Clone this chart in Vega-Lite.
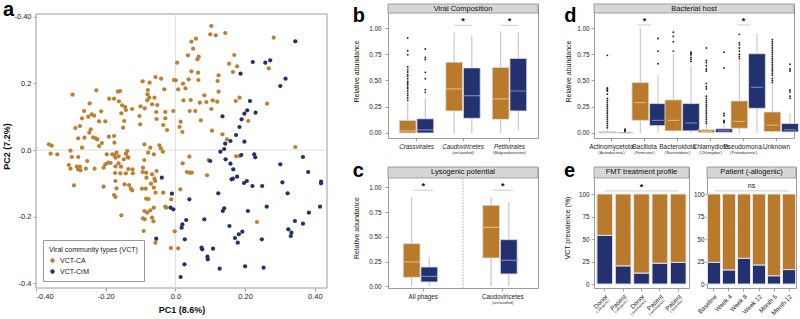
{
"$schema": "https://vega.github.io/schema/vega-lite/v6.json",
"background": "white",
"padding": {"left": 2, "top": 0, "right": 2, "bottom": 0},
"config": {
  "font": "Liberation Sans",
  "view": {"stroke": "#9c9c9c", "strokeWidth": 1},
  "axis": {"domain": false, "grid": false, "ticks": true, "tickColor": "#8c8c8c", "tickSize": 3, "tickWidth": 0.8, "labelColor": "#222222", "labelFontSize": 6.3, "labelPadding": 2, "titleColor": "#111111", "titleFontSize": 7, "titleFontWeight": "normal", "titlePadding": 3},
  "title": {"fontSize": 20, "fontWeight": "bold", "anchor": "start", "frame": "bounds", "baseline": "top", "color": "#000000", "font": "Liberation Sans"}
},
"resolve": {"legend": {"color": "independent"}, "scale": {"color": "independent"}},
"datasets": {
  "pca": [
    {"pc1":0.103,"pc2":0.372,"vct":"VCT-CA"},{"pc1":0.100,"pc2":0.347,"vct":"VCT-CA"},{"pc1":0.116,"pc2":0.344,"vct":"VCT-CA"},{"pc1":0.143,"pc2":0.351,"vct":"VCT-CA"},{"pc1":0.282,"pc2":0.337,"vct":"VCT-CA"},{"pc1":0.059,"pc2":0.334,"vct":"VCT-CA"},{"pc1":0.046,"pc2":0.325,"vct":"VCT-CA"},{"pc1":0.051,"pc2":0.304,"vct":"VCT-CA"},{"pc1":0.036,"pc2":0.284,"vct":"VCT-CA"},{"pc1":0.067,"pc2":0.280,"vct":"VCT-CA"},{"pc1":0.063,"pc2":0.272,"vct":"VCT-CA"},{"pc1":0.005,"pc2":0.262,"vct":"VCT-CA"},{"pc1":0.169,"pc2":0.285,"vct":"VCT-CA"},{"pc1":0.154,"pc2":0.259,"vct":"VCT-CA"},{"pc1":0.177,"pc2":0.251,"vct":"VCT-CA"},{"pc1":0.268,"pc2":0.245,"vct":"VCT-CA"},{"pc1":0.046,"pc2":0.236,"vct":"VCT-CA"},{"pc1":0.065,"pc2":0.232,"vct":"VCT-CA"},{"pc1":0.165,"pc2":0.234,"vct":"VCT-CA"},{"pc1":0.124,"pc2":0.224,"vct":"VCT-CA"},{"pc1":-0.057,"pc2":0.219,"vct":"VCT-CA"},{"pc1":-0.041,"pc2":0.214,"vct":"VCT-CA"},{"pc1":-0.094,"pc2":0.206,"vct":"VCT-CA"},{"pc1":-0.004,"pc2":0.210,"vct":"VCT-CA"},{"pc1":0.001,"pc2":0.209,"vct":"VCT-CA"},{"pc1":0.022,"pc2":0.199,"vct":"VCT-CA"},{"pc1":0.038,"pc2":0.212,"vct":"VCT-CA"},{"pc1":0.066,"pc2":0.210,"vct":"VCT-CA"},{"pc1":0.121,"pc2":0.207,"vct":"VCT-CA"},{"pc1":-0.074,"pc2":0.202,"vct":"VCT-CA"},{"pc1":-0.079,"pc2":0.180,"vct":"VCT-CA"},{"pc1":-0.032,"pc2":0.182,"vct":"VCT-CA"},{"pc1":0.008,"pc2":0.182,"vct":"VCT-CA"},{"pc1":0.029,"pc2":0.185,"vct":"VCT-CA"},{"pc1":0.124,"pc2":0.175,"vct":"VCT-CA"},{"pc1":0.083,"pc2":0.164,"vct":"VCT-CA"},{"pc1":0.107,"pc2":0.149,"vct":"VCT-CA"},{"pc1":0.184,"pc2":0.157,"vct":"VCT-CA"},{"pc1":0.173,"pc2":0.147,"vct":"VCT-CA"},{"pc1":0.023,"pc2":0.149,"vct":"VCT-CA"},{"pc1":0.044,"pc2":0.150,"vct":"VCT-CA"},{"pc1":0.089,"pc2":0.144,"vct":"VCT-CA"},{"pc1":0.070,"pc2":0.142,"vct":"VCT-CA"},{"pc1":0.120,"pc2":0.145,"vct":"VCT-CA"},{"pc1":0.263,"pc2":0.139,"vct":"VCT-CA"},{"pc1":-0.080,"pc2":0.167,"vct":"VCT-CA"},{"pc1":-0.075,"pc2":0.157,"vct":"VCT-CA"},{"pc1":-0.060,"pc2":0.157,"vct":"VCT-CA"},{"pc1":-0.081,"pc2":0.149,"vct":"VCT-CA"},{"pc1":-0.067,"pc2":0.137,"vct":"VCT-CA"},{"pc1":-0.100,"pc2":0.131,"vct":"VCT-CA"},{"pc1":-0.088,"pc2":0.125,"vct":"VCT-CA"},{"pc1":-0.052,"pc2":0.135,"vct":"VCT-CA"},{"pc1":-0.055,"pc2":0.114,"vct":"VCT-CA"},{"pc1":-0.029,"pc2":0.114,"vct":"VCT-CA"},{"pc1":-0.006,"pc2":0.117,"vct":"VCT-CA"},{"pc1":0.041,"pc2":0.117,"vct":"VCT-CA"},{"pc1":0.057,"pc2":0.117,"vct":"VCT-CA"},{"pc1":0.103,"pc2":0.123,"vct":"VCT-CA"},{"pc1":-0.103,"pc2":0.102,"vct":"VCT-CA"},{"pc1":-0.054,"pc2":0.093,"vct":"VCT-CA"},{"pc1":-0.029,"pc2":0.095,"vct":"VCT-CA"},{"pc1":0.015,"pc2":0.085,"vct":"VCT-CA"},{"pc1":0.073,"pc2":0.089,"vct":"VCT-CA"},{"pc1":0.209,"pc2":0.087,"vct":"VCT-CA"},{"pc1":-0.101,"pc2":0.077,"vct":"VCT-CA"},{"pc1":-0.035,"pc2":0.075,"vct":"VCT-CA"},{"pc1":0.012,"pc2":0.069,"vct":"VCT-CA"},{"pc1":-0.024,"pc2":0.060,"vct":"VCT-CA"},{"pc1":0.020,"pc2":0.054,"vct":"VCT-CA"},{"pc1":0.105,"pc2":0.058,"vct":"VCT-CA"},{"pc1":0.135,"pc2":0.047,"vct":"VCT-CA"},{"pc1":0.148,"pc2":0.032,"vct":"VCT-CA"},
    {"pc1":-0.295,"pc2":0.166,"vct":"VCT-CA"},{"pc1":-0.227,"pc2":0.179,"vct":"VCT-CA"},{"pc1":-0.246,"pc2":0.140,"vct":"VCT-CA"},{"pc1":-0.213,"pc2":0.116,"vct":"VCT-CA"},{"pc1":-0.262,"pc2":0.117,"vct":"VCT-CA"},{"pc1":-0.240,"pc2":0.107,"vct":"VCT-CA"},{"pc1":-0.233,"pc2":0.103,"vct":"VCT-CA"},{"pc1":-0.268,"pc2":0.095,"vct":"VCT-CA"},{"pc1":-0.250,"pc2":0.100,"vct":"VCT-CA"},{"pc1":-0.219,"pc2":0.086,"vct":"VCT-CA"},{"pc1":-0.201,"pc2":0.086,"vct":"VCT-CA"},{"pc1":-0.190,"pc2":0.154,"vct":"VCT-CA"},{"pc1":-0.176,"pc2":0.154,"vct":"VCT-CA"},{"pc1":-0.165,"pc2":0.175,"vct":"VCT-CA"},{"pc1":-0.159,"pc2":0.177,"vct":"VCT-CA"},{"pc1":-0.162,"pc2":0.146,"vct":"VCT-CA"},{"pc1":-0.153,"pc2":0.134,"vct":"VCT-CA"},{"pc1":-0.144,"pc2":0.129,"vct":"VCT-CA"},{"pc1":-0.142,"pc2":0.120,"vct":"VCT-CA"},{"pc1":-0.155,"pc2":0.110,"vct":"VCT-CA"},{"pc1":-0.124,"pc2":0.123,"vct":"VCT-CA"},{"pc1":-0.147,"pc2":0.087,"vct":"VCT-CA"},{"pc1":-0.150,"pc2":0.067,"vct":"VCT-CA"},{"pc1":-0.274,"pc2":0.072,"vct":"VCT-CA"},{"pc1":-0.287,"pc2":0.066,"vct":"VCT-CA"},{"pc1":-0.243,"pc2":0.062,"vct":"VCT-CA"},{"pc1":-0.247,"pc2":0.052,"vct":"VCT-CA"},{"pc1":-0.261,"pc2":0.037,"vct":"VCT-CA"},{"pc1":-0.279,"pc2":0.035,"vct":"VCT-CA"},{"pc1":-0.236,"pc2":0.038,"vct":"VCT-CA"},{"pc1":-0.229,"pc2":0.035,"vct":"VCT-CA"},{"pc1":-0.224,"pc2":0.032,"vct":"VCT-CA"},{"pc1":-0.219,"pc2":0.012,"vct":"VCT-CA"},{"pc1":-0.211,"pc2":0.021,"vct":"VCT-CA"},{"pc1":-0.191,"pc2":0.040,"vct":"VCT-CA"},{"pc1":-0.176,"pc2":0.042,"vct":"VCT-CA"},{"pc1":-0.268,"pc2":0.007,"vct":"VCT-CA"},{"pc1":-0.363,"pc2":0.017,"vct":"VCT-CA"},{"pc1":-0.355,"pc2":0.013,"vct":"VCT-CA"},{"pc1":-0.358,"pc2":-0.011,"vct":"VCT-CA"},{"pc1":-0.339,"pc2":-0.013,"vct":"VCT-CA"},{"pc1":-0.301,"pc2":-0.002,"vct":"VCT-CA"},{"pc1":-0.297,"pc2":-0.021,"vct":"VCT-CA"},{"pc1":-0.279,"pc2":-0.021,"vct":"VCT-CA"},{"pc1":-0.253,"pc2":-0.033,"vct":"VCT-CA"},{"pc1":-0.306,"pc2":-0.045,"vct":"VCT-CA"},{"pc1":-0.301,"pc2":-0.056,"vct":"VCT-CA"},{"pc1":-0.283,"pc2":-0.050,"vct":"VCT-CA"},{"pc1":-0.279,"pc2":-0.058,"vct":"VCT-CA"},{"pc1":-0.272,"pc2":-0.061,"vct":"VCT-CA"},{"pc1":-0.274,"pc2":-0.050,"vct":"VCT-CA"},{"pc1":-0.257,"pc2":-0.056,"vct":"VCT-CA"},{"pc1":-0.232,"pc2":-0.056,"vct":"VCT-CA"},{"pc1":-0.291,"pc2":-0.106,"vct":"VCT-CA"},{"pc1":-0.206,"pc2":-0.053,"vct":"VCT-CA"},{"pc1":-0.201,"pc2":-0.043,"vct":"VCT-CA"},{"pc1":-0.193,"pc2":-0.038,"vct":"VCT-CA"},{"pc1":-0.186,"pc2":-0.039,"vct":"VCT-CA"},{"pc1":-0.197,"pc2":-0.013,"vct":"VCT-CA"},{"pc1":-0.176,"pc2":-0.015,"vct":"VCT-CA"},{"pc1":-0.172,"pc2":-0.023,"vct":"VCT-CA"},{"pc1":-0.163,"pc2":-0.019,"vct":"VCT-CA"},{"pc1":-0.181,"pc2":-0.013,"vct":"VCT-CA"},{"pc1":-0.142,"pc2":-0.011,"vct":"VCT-CA"},{"pc1":-0.137,"pc2":-0.021,"vct":"VCT-CA"},{"pc1":-0.148,"pc2":-0.028,"vct":"VCT-CA"},{"pc1":-0.163,"pc2":-0.040,"vct":"VCT-CA"},{"pc1":-0.156,"pc2":-0.050,"vct":"VCT-CA"},{"pc1":-0.172,"pc2":-0.049,"vct":"VCT-CA"},{"pc1":-0.173,"pc2":-0.069,"vct":"VCT-CA"},{"pc1":-0.158,"pc2":-0.070,"vct":"VCT-CA"},{"pc1":-0.142,"pc2":-0.070,"vct":"VCT-CA"},{"pc1":-0.135,"pc2":-0.057,"vct":"VCT-CA"},{"pc1":-0.123,"pc2":-0.058,"vct":"VCT-CA"},{"pc1":-0.122,"pc2":-0.070,"vct":"VCT-CA"},{"pc1":-0.175,"pc2":0.022,"vct":"VCT-CA"},{"pc1":-0.169,"pc2":-0.008,"vct":"VCT-CA"},{"pc1":-0.138,"pc2":-0.003,"vct":"VCT-CA"},{"pc1":-0.135,"pc2":-0.023,"vct":"VCT-CA"},{"pc1":-0.206,"pc2":-0.110,"vct":"VCT-CA"},{"pc1":-0.169,"pc2":-0.115,"vct":"VCT-CA"},{"pc1":-0.172,"pc2":-0.093,"vct":"VCT-CA"},{"pc1":-0.146,"pc2":-0.103,"vct":"VCT-CA"},{"pc1":-0.133,"pc2":-0.105,"vct":"VCT-CA"},{"pc1":-0.128,"pc2":-0.116,"vct":"VCT-CA"},{"pc1":-0.124,"pc2":-0.121,"vct":"VCT-CA"},{"pc1":-0.176,"pc2":-0.135,"vct":"VCT-CA"},{"pc1":-0.172,"pc2":-0.141,"vct":"VCT-CA"},{"pc1":-0.155,"pc2":-0.196,"vct":"VCT-CA"},
    {"pc1":-0.089,"pc2":0.017,"vct":"VCT-CA"},{"pc1":-0.072,"pc2":0.007,"vct":"VCT-CA"},{"pc1":-0.046,"pc2":0.014,"vct":"VCT-CA"},{"pc1":-0.042,"pc2":0.005,"vct":"VCT-CA"},{"pc1":-0.036,"pc2":-0.005,"vct":"VCT-CA"},{"pc1":-0.062,"pc2":-0.013,"vct":"VCT-CA"},{"pc1":-0.078,"pc2":-0.008,"vct":"VCT-CA"},{"pc1":-0.089,"pc2":-0.030,"vct":"VCT-CA"},{"pc1":-0.093,"pc2":-0.053,"vct":"VCT-CA"},{"pc1":-0.094,"pc2":-0.066,"vct":"VCT-CA"},{"pc1":-0.084,"pc2":-0.068,"vct":"VCT-CA"},{"pc1":-0.083,"pc2":-0.083,"vct":"VCT-CA"},{"pc1":-0.067,"pc2":-0.073,"vct":"VCT-CA"},{"pc1":-0.060,"pc2":-0.086,"vct":"VCT-CA"},{"pc1":-0.054,"pc2":-0.063,"vct":"VCT-CA"},{"pc1":-0.058,"pc2":-0.093,"vct":"VCT-CA"},{"pc1":-0.070,"pc2":-0.101,"vct":"VCT-CA"},{"pc1":-0.096,"pc2":-0.116,"vct":"VCT-CA"},{"pc1":-0.085,"pc2":-0.116,"vct":"VCT-CA"},{"pc1":-0.062,"pc2":-0.113,"vct":"VCT-CA"},{"pc1":-0.057,"pc2":-0.128,"vct":"VCT-CA"},{"pc1":-0.035,"pc2":-0.128,"vct":"VCT-CA"},{"pc1":-0.029,"pc2":-0.170,"vct":"VCT-CA"},{"pc1":-0.026,"pc2":-0.173,"vct":"VCT-CA"},{"pc1":-0.084,"pc2":-0.146,"vct":"VCT-CA"},{"pc1":-0.077,"pc2":-0.147,"vct":"VCT-CA"},{"pc1":-0.062,"pc2":-0.173,"vct":"VCT-CA"},{"pc1":-0.072,"pc2":-0.181,"vct":"VCT-CA"},{"pc1":-0.089,"pc2":-0.183,"vct":"VCT-CA"},{"pc1":-0.081,"pc2":-0.188,"vct":"VCT-CA"},{"pc1":-0.067,"pc2":-0.203,"vct":"VCT-CA"},{"pc1":-0.063,"pc2":-0.214,"vct":"VCT-CA"},{"pc1":-0.093,"pc2":-0.205,"vct":"VCT-CA"},{"pc1":-0.088,"pc2":-0.208,"vct":"VCT-CA"},{"pc1":-0.091,"pc2":-0.243,"vct":"VCT-CA"},{"pc1":-0.057,"pc2":-0.278,"vct":"VCT-CA"},{"pc1":-0.012,"pc2":-0.148,"vct":"VCT-CA"},{"pc1":0.014,"pc2":-0.118,"vct":"VCT-CA"},{"pc1":0.021,"pc2":-0.040,"vct":"VCT-CA"},{"pc1":0.040,"pc2":-0.020,"vct":"VCT-CA"},{"pc1":0.033,"pc2":-0.066,"vct":"VCT-CA"},{"pc1":0.041,"pc2":-0.068,"vct":"VCT-CA"},{"pc1":0.047,"pc2":-0.068,"vct":"VCT-CA"},{"pc1":0.091,"pc2":-0.076,"vct":"VCT-CA"},{"pc1":0.095,"pc2":-0.030,"vct":"VCT-CA"},{"pc1":-0.002,"pc2":-0.244,"vct":"VCT-CA"},{"pc1":-0.013,"pc2":-0.294,"vct":"VCT-CA"},{"pc1":0.008,"pc2":-0.295,"vct":"VCT-CA"},{"pc1":0.234,"pc2":-0.216,"vct":"VCT-CA"},{"pc1":0.344,"pc2":0.009,"vct":"VCT-CA"},{"pc1":0.174,"pc2":-0.019,"vct":"VCT-CA"},{"pc1":0.185,"pc2":-0.018,"vct":"VCT-CA"},
    {"pc1":0.344,"pc2":0.326,"vct":"VCT-CrM"},{"pc1":0.272,"pc2":0.269,"vct":"VCT-CrM"},{"pc1":0.258,"pc2":0.262,"vct":"VCT-CrM"},{"pc1":0.222,"pc2":0.264,"vct":"VCT-CrM"},{"pc1":0.316,"pc2":0.214,"vct":"VCT-CrM"},{"pc1":0.301,"pc2":0.192,"vct":"VCT-CrM"},{"pc1":0.187,"pc2":0.229,"vct":"VCT-CrM"},{"pc1":0.214,"pc2":0.147,"vct":"VCT-CrM"},{"pc1":0.206,"pc2":0.119,"vct":"VCT-CrM"},{"pc1":0.198,"pc2":0.109,"vct":"VCT-CrM"},{"pc1":0.230,"pc2":0.112,"vct":"VCT-CrM"},{"pc1":0.135,"pc2":0.101,"vct":"VCT-CrM"},{"pc1":0.190,"pc2":0.092,"vct":"VCT-CrM"},{"pc1":0.184,"pc2":0.069,"vct":"VCT-CrM"},{"pc1":0.174,"pc2":0.045,"vct":"VCT-CrM"},{"pc1":0.158,"pc2":0.027,"vct":"VCT-CrM"},{"pc1":0.143,"pc2":0.019,"vct":"VCT-CrM"},{"pc1":0.198,"pc2":0.025,"vct":"VCT-CrM"},{"pc1":0.140,"pc2":0.003,"vct":"VCT-CrM"},{"pc1":0.129,"pc2":-0.005,"vct":"VCT-CrM"},{"pc1":0.144,"pc2":-0.028,"vct":"VCT-CrM"},{"pc1":0.189,"pc2":-0.015,"vct":"VCT-CrM"},{"pc1":0.226,"pc2":-0.013,"vct":"VCT-CrM"},{"pc1":0.229,"pc2":-0.022,"vct":"VCT-CrM"},{"pc1":0.100,"pc2":-0.033,"vct":"VCT-CrM"},{"pc1":0.158,"pc2":-0.041,"vct":"VCT-CrM"},{"pc1":0.166,"pc2":-0.058,"vct":"VCT-CrM"},{"pc1":0.177,"pc2":-0.080,"vct":"VCT-CrM"},{"pc1":0.165,"pc2":-0.086,"vct":"VCT-CrM"},{"pc1":0.161,"pc2":-0.088,"vct":"VCT-CrM"},{"pc1":0.205,"pc2":-0.093,"vct":"VCT-CrM"},{"pc1":0.197,"pc2":-0.099,"vct":"VCT-CrM"},{"pc1":0.221,"pc2":-0.108,"vct":"VCT-CrM"},{"pc1":0.249,"pc2":-0.108,"vct":"VCT-CrM"},{"pc1":0.301,"pc2":-0.043,"vct":"VCT-CrM"},{"pc1":0.307,"pc2":-0.097,"vct":"VCT-CrM"},{"pc1":0.366,"pc2":-0.021,"vct":"VCT-CrM"},{"pc1":0.381,"pc2":-0.066,"vct":"VCT-CrM"},{"pc1":0.322,"pc2":-0.130,"vct":"VCT-CrM"},{"pc1":0.418,"pc2":-0.095,"vct":"VCT-CrM"},{"pc1":0.418,"pc2":-0.100,"vct":"VCT-CrM"},{"pc1":0.415,"pc2":-0.170,"vct":"VCT-CrM"},{"pc1":0.383,"pc2":-0.188,"vct":"VCT-CrM"},{"pc1":0.343,"pc2":-0.213,"vct":"VCT-CrM"},{"pc1":0.366,"pc2":-0.221,"vct":"VCT-CrM"},{"pc1":0.324,"pc2":-0.238,"vct":"VCT-CrM"},{"pc1":0.333,"pc2":-0.248,"vct":"VCT-CrM"},{"pc1":0.331,"pc2":-0.258,"vct":"VCT-CrM"},{"pc1":0.262,"pc2":-0.170,"vct":"VCT-CrM"},{"pc1":0.208,"pc2":-0.183,"vct":"VCT-CrM"},{"pc1":0.123,"pc2":-0.130,"vct":"VCT-CrM"},{"pc1":0.140,"pc2":-0.175,"vct":"VCT-CrM"},{"pc1":0.136,"pc2":-0.183,"vct":"VCT-CrM"},{"pc1":0.155,"pc2":-0.228,"vct":"VCT-CrM"},{"pc1":0.171,"pc2":-0.264,"vct":"VCT-CrM"},{"pc1":0.182,"pc2":-0.253,"vct":"VCT-CrM"},{"pc1":0.192,"pc2":-0.245,"vct":"VCT-CrM"},{"pc1":0.179,"pc2":-0.278,"vct":"VCT-CrM"},{"pc1":0.248,"pc2":-0.268,"vct":"VCT-CrM"},{"pc1":0.200,"pc2":-0.349,"vct":"VCT-CrM"},{"pc1":0.253,"pc2":-0.353,"vct":"VCT-CrM"},{"pc1":0.127,"pc2":-0.356,"vct":"VCT-CrM"},{"pc1":0.108,"pc2":-0.296,"vct":"VCT-CrM"},{"pc1":0.075,"pc2":-0.293,"vct":"VCT-CrM"},{"pc1":0.077,"pc2":-0.298,"vct":"VCT-CrM"},{"pc1":0.092,"pc2":-0.320,"vct":"VCT-CrM"},{"pc1":0.093,"pc2":-0.328,"vct":"VCT-CrM"},{"pc1":0.083,"pc2":-0.208,"vct":"VCT-CrM"},{"pc1":0.040,"pc2":-0.148,"vct":"VCT-CrM"},{"pc1":0.020,"pc2":-0.223,"vct":"VCT-CrM"},{"pc1":0.031,"pc2":-0.210,"vct":"VCT-CrM"},{"pc1":0.018,"pc2":-0.233,"vct":"VCT-CrM"},{"pc1":0.027,"pc2":-0.268,"vct":"VCT-CrM"},{"pc1":0.026,"pc2":-0.343,"vct":"VCT-CrM"},{"pc1":0.015,"pc2":-0.381,"vct":"VCT-CrM"},{"pc1":-0.055,"pc2":-0.266,"vct":"VCT-CrM"},{"pc1":-0.039,"pc2":-0.083,"vct":"VCT-CrM"},{"pc1":-0.010,"pc2":-0.131,"vct":"VCT-CrM"},{"pc1":-0.014,"pc2":-0.173,"vct":"VCT-CrM"},{"pc1":-0.006,"pc2":-0.178,"vct":"VCT-CrM"}
  ],
  "boxes": [
    {"p":"b","cat":"Crassvirales","vct":"VCT-CA","lo":0,"q1":0,"med":0.02,"q3":0.12,"hi":0.29},
    {"p":"b","cat":"Crassvirales","vct":"VCT-CrM","lo":0,"q1":0,"med":0.03,"q3":0.135,"hi":0.33},
    {"p":"b","cat":"Caudoviricetes","vct":"VCT-CA","lo":0,"q1":0.21,"med":0.42,"q3":0.675,"hi":0.96},
    {"p":"b","cat":"Caudoviricetes","vct":"VCT-CrM","lo":0,"q1":0.14,"med":0.355,"q3":0.62,"hi":0.93},
    {"p":"b","cat":"Petitvirales","vct":"VCT-CA","lo":0,"q1":0.13,"med":0.325,"q3":0.625,"hi":0.97},
    {"p":"b","cat":"Petitvirales","vct":"VCT-CrM","lo":0.03,"q1":0.21,"med":0.40,"q3":0.71,"hi":0.96},
    {"p":"c","cat":"All phages","vct":"VCT-CA","lo":0,"q1":0.091,"med":0.246,"q3":0.431,"hi":0.90},
    {"p":"c","cat":"All phages","vct":"VCT-CrM","lo":0,"q1":0.044,"med":0.10,"q3":0.195,"hi":0.293},
    {"p":"c","cat":"Caudoviricetes","vct":"VCT-CA","lo":0,"q1":0.286,"med":0.596,"q3":0.818,"hi":0.90},
    {"p":"c","cat":"Caudoviricetes","vct":"VCT-CrM","lo":0,"q1":0.125,"med":0.263,"q3":0.471,"hi":0.852},
    {"p":"d","cat":"Actinomycetota","vct":"VCT-CA","lo":0,"q1":0,"med":0.005,"q3":0.012,"hi":0.03},
    {"p":"d","cat":"Actinomycetota","vct":"VCT-CrM","lo":0,"q1":0,"med":0.002,"q3":0.005,"hi":0.01},
    {"p":"d","cat":"Bacillota","vct":"VCT-CA","lo":0,"q1":0.12,"med":0.29,"q3":0.48,"hi":1.0},
    {"p":"d","cat":"Bacillota","vct":"VCT-CrM","lo":0,"q1":0.07,"med":0.12,"q3":0.28,"hi":0.55},
    {"p":"d","cat":"Bacteroidota","vct":"VCT-CA","lo":0,"q1":0.02,"med":0.12,"q3":0.315,"hi":0.75},
    {"p":"d","cat":"Bacteroidota","vct":"VCT-CrM","lo":0,"q1":0.02,"med":0.095,"q3":0.28,"hi":0.64},
    {"p":"d","cat":"Chlamydiota","vct":"VCT-CA","lo":0,"q1":0.003,"med":0.015,"q3":0.03,"hi":0.07},
    {"p":"d","cat":"Chlamydiota","vct":"VCT-CrM","lo":0,"q1":0.005,"med":0.02,"q3":0.04,"hi":0.085},
    {"p":"d","cat":"Pseudomona.","vct":"VCT-CA","lo":0,"q1":0.045,"med":0.11,"q3":0.305,"hi":0.69},
    {"p":"d","cat":"Pseudomona.","vct":"VCT-CrM","lo":0,"q1":0.235,"med":0.435,"q3":0.755,"hi":0.95},
    {"p":"d","cat":"Unknown","vct":"VCT-CA","lo":0,"q1":0.013,"med":0.075,"q3":0.20,"hi":0.46},
    {"p":"d","cat":"Unknown","vct":"VCT-CrM","lo":0,"q1":0.01,"med":0.03,"q3":0.09,"hi":0.19}
  ],
  "outliers": [
    {"p":"b","cat":"Crassvirales","vct":"VCT-CA","v":0.905},{"p":"b","cat":"Crassvirales","vct":"VCT-CA","v":0.784},{"p":"b","cat":"Crassvirales","vct":"VCT-CA","v":0.746},{"p":"b","cat":"Crassvirales","vct":"VCT-CA","v":0.629},{"p":"b","cat":"Crassvirales","vct":"VCT-CA","v":0.603},{"p":"b","cat":"Crassvirales","vct":"VCT-CA","v":0.581},{"p":"b","cat":"Crassvirales","vct":"VCT-CA","v":0.556},{"p":"b","cat":"Crassvirales","vct":"VCT-CA","v":0.540},{"p":"b","cat":"Crassvirales","vct":"VCT-CA","v":0.517},{"p":"b","cat":"Crassvirales","vct":"VCT-CA","v":0.492},{"p":"b","cat":"Crassvirales","vct":"VCT-CA","v":0.476},{"p":"b","cat":"Crassvirales","vct":"VCT-CA","v":0.460},{"p":"b","cat":"Crassvirales","vct":"VCT-CA","v":0.438},{"p":"b","cat":"Crassvirales","vct":"VCT-CA","v":0.422},{"p":"b","cat":"Crassvirales","vct":"VCT-CA","v":0.397},{"p":"b","cat":"Crassvirales","vct":"VCT-CA","v":0.375},{"p":"b","cat":"Crassvirales","vct":"VCT-CA","v":0.356},{"p":"b","cat":"Crassvirales","vct":"VCT-CA","v":0.333},{"p":"b","cat":"Crassvirales","vct":"VCT-CA","v":0.311},
    {"p":"b","cat":"Crassvirales","vct":"VCT-CrM","v":0.80},{"p":"b","cat":"Crassvirales","vct":"VCT-CrM","v":0.72},{"p":"b","cat":"Crassvirales","vct":"VCT-CrM","v":0.70},{"p":"b","cat":"Crassvirales","vct":"VCT-CrM","v":0.578},{"p":"b","cat":"Crassvirales","vct":"VCT-CrM","v":0.517},{"p":"b","cat":"Crassvirales","vct":"VCT-CrM","v":0.413},{"p":"b","cat":"Crassvirales","vct":"VCT-CrM","v":0.387},
    {"p":"d","cat":"Actinomycetota","vct":"VCT-CA","v":0.74},{"p":"d","cat":"Actinomycetota","vct":"VCT-CA","v":0.43},{"p":"d","cat":"Actinomycetota","vct":"VCT-CA","v":0.42},{"p":"d","cat":"Actinomycetota","vct":"VCT-CA","v":0.41},{"p":"d","cat":"Actinomycetota","vct":"VCT-CA","v":0.40},{"p":"d","cat":"Actinomycetota","vct":"VCT-CA","v":0.37},{"p":"d","cat":"Actinomycetota","vct":"VCT-CA","v":0.33},{"p":"d","cat":"Actinomycetota","vct":"VCT-CA","v":0.31},{"p":"d","cat":"Actinomycetota","vct":"VCT-CA","v":0.29},{"p":"d","cat":"Actinomycetota","vct":"VCT-CA","v":0.27},{"p":"d","cat":"Actinomycetota","vct":"VCT-CA","v":0.25},{"p":"d","cat":"Actinomycetota","vct":"VCT-CA","v":0.23},{"p":"d","cat":"Actinomycetota","vct":"VCT-CA","v":0.21},{"p":"d","cat":"Actinomycetota","vct":"VCT-CA","v":0.19},{"p":"d","cat":"Actinomycetota","vct":"VCT-CA","v":0.17},{"p":"d","cat":"Actinomycetota","vct":"VCT-CA","v":0.15},{"p":"d","cat":"Actinomycetota","vct":"VCT-CA","v":0.13},{"p":"d","cat":"Actinomycetota","vct":"VCT-CA","v":0.11},{"p":"d","cat":"Actinomycetota","vct":"VCT-CA","v":0.09},{"p":"d","cat":"Actinomycetota","vct":"VCT-CA","v":0.07},{"p":"d","cat":"Actinomycetota","vct":"VCT-CA","v":0.05},
    {"p":"d","cat":"Actinomycetota","vct":"VCT-CrM","v":0.035},{"p":"d","cat":"Actinomycetota","vct":"VCT-CrM","v":0.028},{"p":"d","cat":"Actinomycetota","vct":"VCT-CrM","v":0.022},{"p":"d","cat":"Actinomycetota","vct":"VCT-CrM","v":0.016},
    {"p":"d","cat":"Bacillota","vct":"VCT-CrM","v":0.90},{"p":"d","cat":"Bacillota","vct":"VCT-CrM","v":0.78},{"p":"d","cat":"Bacillota","vct":"VCT-CrM","v":0.66},
    {"p":"d","cat":"Bacteroidota","vct":"VCT-CA","v":0.96},{"p":"d","cat":"Bacteroidota","vct":"VCT-CA","v":0.92},{"p":"d","cat":"Bacteroidota","vct":"VCT-CA","v":0.87},{"p":"d","cat":"Bacteroidota","vct":"VCT-CA","v":0.78},
    {"p":"d","cat":"Bacteroidota","vct":"VCT-CrM","v":0.77},{"p":"d","cat":"Bacteroidota","vct":"VCT-CrM","v":0.76},{"p":"d","cat":"Bacteroidota","vct":"VCT-CrM","v":0.745},{"p":"d","cat":"Bacteroidota","vct":"VCT-CrM","v":0.72},{"p":"d","cat":"Bacteroidota","vct":"VCT-CrM","v":0.70},{"p":"d","cat":"Bacteroidota","vct":"VCT-CrM","v":0.68},
    {"p":"d","cat":"Chlamydiota","vct":"VCT-CA","v":0.81},{"p":"d","cat":"Chlamydiota","vct":"VCT-CA","v":0.69},{"p":"d","cat":"Chlamydiota","vct":"VCT-CA","v":0.67},{"p":"d","cat":"Chlamydiota","vct":"VCT-CA","v":0.64},{"p":"d","cat":"Chlamydiota","vct":"VCT-CA","v":0.61},{"p":"d","cat":"Chlamydiota","vct":"VCT-CA","v":0.59},{"p":"d","cat":"Chlamydiota","vct":"VCT-CA","v":0.47},{"p":"d","cat":"Chlamydiota","vct":"VCT-CA","v":0.44},{"p":"d","cat":"Chlamydiota","vct":"VCT-CA","v":0.42},{"p":"d","cat":"Chlamydiota","vct":"VCT-CA","v":0.35},{"p":"d","cat":"Chlamydiota","vct":"VCT-CA","v":0.33},{"p":"d","cat":"Chlamydiota","vct":"VCT-CA","v":0.31},{"p":"d","cat":"Chlamydiota","vct":"VCT-CA","v":0.29},{"p":"d","cat":"Chlamydiota","vct":"VCT-CA","v":0.27},{"p":"d","cat":"Chlamydiota","vct":"VCT-CA","v":0.25},{"p":"d","cat":"Chlamydiota","vct":"VCT-CA","v":0.23},{"p":"d","cat":"Chlamydiota","vct":"VCT-CA","v":0.21},{"p":"d","cat":"Chlamydiota","vct":"VCT-CA","v":0.19},{"p":"d","cat":"Chlamydiota","vct":"VCT-CA","v":0.17},{"p":"d","cat":"Chlamydiota","vct":"VCT-CA","v":0.15},{"p":"d","cat":"Chlamydiota","vct":"VCT-CA","v":0.13},{"p":"d","cat":"Chlamydiota","vct":"VCT-CA","v":0.11},{"p":"d","cat":"Chlamydiota","vct":"VCT-CA","v":0.09},
    {"p":"d","cat":"Chlamydiota","vct":"VCT-CrM","v":0.77},{"p":"d","cat":"Chlamydiota","vct":"VCT-CrM","v":0.62},{"p":"d","cat":"Chlamydiota","vct":"VCT-CrM","v":0.185},{"p":"d","cat":"Chlamydiota","vct":"VCT-CrM","v":0.165},{"p":"d","cat":"Chlamydiota","vct":"VCT-CrM","v":0.12},{"p":"d","cat":"Chlamydiota","vct":"VCT-CrM","v":0.11},{"p":"d","cat":"Chlamydiota","vct":"VCT-CrM","v":0.10},
    {"p":"d","cat":"Pseudomona.","vct":"VCT-CA","v":0.94},{"p":"d","cat":"Pseudomona.","vct":"VCT-CA","v":0.86},{"p":"d","cat":"Pseudomona.","vct":"VCT-CA","v":0.84},{"p":"d","cat":"Pseudomona.","vct":"VCT-CA","v":0.81},{"p":"d","cat":"Pseudomona.","vct":"VCT-CA","v":0.78},{"p":"d","cat":"Pseudomona.","vct":"VCT-CA","v":0.75},{"p":"d","cat":"Pseudomona.","vct":"VCT-CA","v":0.73},{"p":"d","cat":"Pseudomona.","vct":"VCT-CA","v":0.71},
    {"p":"d","cat":"Unknown","vct":"VCT-CA","v":0.89},{"p":"d","cat":"Unknown","vct":"VCT-CA","v":0.87},{"p":"d","cat":"Unknown","vct":"VCT-CA","v":0.85},{"p":"d","cat":"Unknown","vct":"VCT-CA","v":0.83},{"p":"d","cat":"Unknown","vct":"VCT-CA","v":0.81},{"p":"d","cat":"Unknown","vct":"VCT-CA","v":0.79},{"p":"d","cat":"Unknown","vct":"VCT-CA","v":0.77},{"p":"d","cat":"Unknown","vct":"VCT-CA","v":0.75},{"p":"d","cat":"Unknown","vct":"VCT-CA","v":0.73},{"p":"d","cat":"Unknown","vct":"VCT-CA","v":0.71},{"p":"d","cat":"Unknown","vct":"VCT-CA","v":0.69},{"p":"d","cat":"Unknown","vct":"VCT-CA","v":0.67},{"p":"d","cat":"Unknown","vct":"VCT-CA","v":0.65},{"p":"d","cat":"Unknown","vct":"VCT-CA","v":0.63},{"p":"d","cat":"Unknown","vct":"VCT-CA","v":0.61},{"p":"d","cat":"Unknown","vct":"VCT-CA","v":0.59},{"p":"d","cat":"Unknown","vct":"VCT-CA","v":0.57},{"p":"d","cat":"Unknown","vct":"VCT-CA","v":0.55},{"p":"d","cat":"Unknown","vct":"VCT-CA","v":0.52},{"p":"d","cat":"Unknown","vct":"VCT-CA","v":0.50},{"p":"d","cat":"Unknown","vct":"VCT-CA","v":0.48},
    {"p":"d","cat":"Unknown","vct":"VCT-CrM","v":0.655},{"p":"d","cat":"Unknown","vct":"VCT-CrM","v":0.61},{"p":"d","cat":"Unknown","vct":"VCT-CrM","v":0.59},{"p":"d","cat":"Unknown","vct":"VCT-CrM","v":0.41},{"p":"d","cat":"Unknown","vct":"VCT-CrM","v":0.39},{"p":"d","cat":"Unknown","vct":"VCT-CrM","v":0.35},{"p":"d","cat":"Unknown","vct":"VCT-CrM","v":0.33}
  ],
  "bars": [
    {"grp":"FMT","cat":"Donor (-allogenic)","crm":54},
    {"grp":"FMT","cat":"Patient (-allogenic)","crm":20},
    {"grp":"FMT","cat":"Donor (-autologous)","crm":12},
    {"grp":"FMT","cat":"Patient (-autologous)","crm":23},
    {"grp":"FMT","cat":"Patient (-baseline)","crm":24},
    {"grp":"PAT","cat":"Baseline","crm":24},
    {"grp":"PAT","cat":"Week 4","crm":15.5},
    {"grp":"PAT","cat":"Week 8","crm":28.5},
    {"grp":"PAT","cat":"Week 12","crm":21},
    {"grp":"PAT","cat":"Month 6","crm":9},
    {"grp":"PAT","cat":"Month 12","crm":16}
  ]
},
"columns": 3,
"align": "none",
"spacing": 24,
"concat": [
  {
    "columns": 1,
    "resolve": {"legend": {"color": "independent"}, "scale": {"color": "independent"}},
    "concat": [
      {
        "width": 291, "height": 284,
        "view": {"stroke": null},
        "title": {"text": "a", "offset": -16},
        "resolve": {"axis": {"x": "independent", "y": "independent"}},
        "layer": [
          {"data": {"values": [{}]}, "mark": {"type": "rect", "fill": "white", "fillOpacity": 0, "stroke": "#9c9c9c", "strokeWidth": 1},
           "encoding": {"y": {"datum": -0.414, "type": "quantitative", "scale": {"domain": [-0.414, 0.438], "nice": false, "zero": false},
               "axis": {"orient": "left", "values": [0.4, 0.2, 0, -0.2, -0.4], "labelExpr": "datum.value > 0.3 ? '-0.40' : datum.value == 0 ? '0.0' : (datum.value < 0 ? '-' : '') + format(abs(datum.value), '.1f')", "title": "PC2 (7.2%)", "titleFontWeight": "bold", "titleFontSize": 9, "labelFontSize": 7.5, "labelPadding": 2, "titlePadding": 2}},
             "y2": {"datum": 0.408}}},
          {"data": {"values": [{}]}, "mark": {"type": "rule", "color": "#dedede", "strokeWidth": 1},
           "encoding": {"x": {"datum": 0, "type": "quantitative", "scale": {"domain": [-0.4, 0.435], "nice": false, "zero": false},
               "axis": {"orient": "bottom", "values": [-0.4, -0.2, 0, 0.2, 0.4], "labelExpr": "datum.value == 0 ? '0.0' : (datum.value < 0 ? '-' : '') + format(abs(datum.value), '.2f')", "title": "PC1 (8.6%)", "titleFontWeight": "bold", "titleFontSize": 9, "labelFontSize": 7.5, "labelPadding": 1, "titlePadding": 6}},
             "y": {"datum": -0.414, "type": "quantitative", "axis": null}, "y2": {"datum": 0.408}}},
          {"data": {"values": [{}]}, "mark": {"type": "rule", "color": "#dedede", "strokeWidth": 1},
           "encoding": {"y": {"datum": 0, "type": "quantitative", "axis": null}}},
          {"data": {"name": "pca"}, "mark": {"type": "circle", "size": 18, "opacity": 1},
           "encoding": {
             "x": {"field": "pc1", "type": "quantitative", "axis": null},
             "y": {"field": "pc2", "type": "quantitative", "axis": null},
             "color": {"field": "vct", "type": "nominal", "scale": {"domain": ["VCT-CA", "VCT-CrM"], "range": ["#BD7F30", "#233170"]},
                       "legend": {"title": "Viral community types (VCT)", "orient": "bottom-left", "offset": 7, "strokeColor": "#9a9a9a", "fillColor": "white", "padding": 6, "titleFontSize": 7, "titleFontWeight": "normal", "titleColor": "#222222", "labelFontSize": 7, "labelColor": "#222222", "symbolSize": 20, "symbolType": "circle", "titlePadding": 4, "rowPadding": 3}}
           }}
        ]
      }
    ]
  },
  {
    "columns": 1, "align": "none", "spacing": 5,
    "concat": [
      {
        "width": 150, "height": 134,
        "title": {"text": "b", "offset": -22},
        "resolve": {"axis": {"x": "independent", "y": "independent"}},
        "layer": [
          {"data": {"values": [{"label": "Viral Composition"}]}, "mark": {"type": "rect", "fill": "#d6d6d6", "stroke": "#8e8e8e", "strokeWidth": 0.8},
           "encoding": {"y": {"datum": 1.143, "type": "quantitative", "scale": {"domain": [-0.048, 1.229], "nice": false, "zero": false}, "axis": {"orient": "left", "values": [0, 0.25, 0.5, 0.75, 1], "format": ".2f", "title": "Relative abundance", "labelPadding": 4, "titlePadding": 9}}, "y2": {"datum": 1.229}}},
          {"data": {"values": [{"label": "Viral Composition"}]}, "mark": {"type": "text", "fontSize": 7.5, "color": "#111111", "baseline": "middle"},
           "encoding": {"y": {"datum": 1.186, "type": "quantitative", "axis": null}, "text": {"field": "label"}}},
          {"data": {"name": "boxes"}, "transform": [{"filter": "datum.p == 'b'"}], "mark": {"type": "rule", "color": "#c8c8c8", "strokeWidth": 1.2},
           "encoding": {
             "x": {"field": "cat", "type": "nominal", "scale": {"domain": ["Crassvirales", "Caudoviricetes", "Petitvirales"], "paddingInner": 0.26, "paddingOuter": 0.243}, "axis": {"orient": "bottom", "title": null, "labelAngle": 0, "labelFontStyle": "italic", "labelPadding": 2}},
             "xOffset": {"field": "vct", "scale": {"domain": ["VCT-CA", "VCT-CrM"], "paddingInner": 0.05}},
             "y": {"field": "lo", "type": "quantitative", "axis": null}, "y2": {"field": "hi"}}},
          {"data": {"name": "boxes"}, "transform": [{"filter": "datum.p == 'b'"}], "mark": {"type": "bar", "stroke": "#dcdcdc", "strokeWidth": 0.8},
           "encoding": {
             "x": {"field": "cat", "type": "nominal", "axis": null}, "xOffset": {"field": "vct"},
             "y": {"field": "q1", "type": "quantitative", "axis": null}, "y2": {"field": "q3"},
             "fill": {"condition": {"test": "datum.vct == 'VCT-CA'", "value": "#B97A2C"}, "value": "#233170"}}},
          {"data": {"name": "boxes"}, "transform": [{"filter": "datum.p == 'b'"}], "mark": {"type": "tick", "orient": "horizontal", "size": 16.5, "thickness": 1.2},
           "encoding": {
             "x": {"field": "cat", "type": "nominal", "axis": null}, "xOffset": {"field": "vct"},
             "y": {"field": "med", "type": "quantitative", "axis": null},
             "color": {"condition": {"test": "datum.vct == 'VCT-CA'", "value": "#F3CE98"}, "value": "#A3ABD4"}}},
          {"data": {"name": "outliers"}, "transform": [{"filter": "datum.p == 'b'"}], "mark": {"type": "circle", "size": 3.5, "color": "#222222", "opacity": 1},
           "encoding": {
             "x": {"field": "cat", "type": "nominal", "axis": {"orient": "bottom", "title": null, "ticks": false, "labelAngle": 0, "labelFontSize": 3.6, "labelPadding": 12, "labelExpr": "datum.value == 'Caudoviricetes' ? '(unclassified)' : datum.value == 'Petitvirales' ? '(Malgrandaviricetes)' : ''"}},
             "xOffset": {"field": "vct"},
             "y": {"field": "v", "type": "quantitative", "axis": null}}},
          {"data": {"values": [{"cat": "Caudoviricetes"}, {"cat": "Petitvirales"}]}, "mark": {"type": "tick", "orient": "horizontal", "size": 18, "thickness": 1.3, "color": "#c8c8c8"},
           "encoding": {"x": {"field": "cat", "type": "nominal", "axis": null}, "y": {"datum": 1.025, "type": "quantitative", "axis": null}}},
          {"data": {"values": [{"cat": "Caudoviricetes"}, {"cat": "Petitvirales"}]}, "mark": {"type": "text", "text": "*", "fontSize": 9, "fontWeight": "bold", "baseline": "alphabetic", "color": "#111111"},
           "encoding": {"x": {"field": "cat", "type": "nominal", "axis": null}, "y": {"datum": 1.035, "type": "quantitative", "axis": null}}}
        ]
      },
      {
        "width": 150, "height": 121,
        "title": {"text": "c", "offset": -14},
        "resolve": {"axis": {"x": "independent", "y": "independent"}},
        "layer": [
          {"data": {"values": [{"label": "Lysogenic potential"}]}, "mark": {"type": "rect", "fill": "#d6d6d6", "stroke": "#8e8e8e", "strokeWidth": 0.8},
           "encoding": {"y": {"datum": 1.094, "type": "quantitative", "scale": {"domain": [-0.017, 1.205], "nice": false, "zero": false}, "axis": {"orient": "left", "values": [0, 0.25, 0.5, 0.75, 1], "format": ".2f", "title": "Relative abundance", "labelPadding": 4, "titlePadding": 9}}, "y2": {"datum": 1.205}}},
          {"data": {"values": [{"label": "Lysogenic potential"}]}, "mark": {"type": "text", "fontSize": 7.5, "color": "#111111", "baseline": "middle"},
           "encoding": {"y": {"datum": 1.15, "type": "quantitative", "axis": null}, "text": {"field": "label"}}},
          {"data": {"values": [{"cat": "All phages"}]}, "mark": {"type": "rule", "color": "#9a9a9a", "strokeDash": [1.5, 1.5], "strokeWidth": 0.8},
           "encoding": {"x": {"field": "cat", "type": "nominal", "bandPosition": 1.494, "axis": null}, "y": {"datum": -0.017, "type": "quantitative", "axis": null}, "y2": {"datum": 1.094}}},
          {"data": {"name": "boxes"}, "transform": [{"filter": "datum.p == 'c'"}], "mark": {"type": "rule", "color": "#c8c8c8", "strokeWidth": 1.2},
           "encoding": {
             "x": {"field": "cat", "type": "nominal", "scale": {"domain": ["All phages", "Caudoviricetes"], "paddingInner": 0.497, "paddingOuter": 0.192}, "axis": {"orient": "bottom", "title": null, "labelAngle": 0, "labelPadding": 2}},
             "xOffset": {"field": "vct", "scale": {"domain": ["VCT-CA", "VCT-CrM"], "paddingInner": 0.05}},
             "y": {"field": "lo", "type": "quantitative", "axis": null}, "y2": {"field": "hi"}}},
          {"data": {"name": "boxes"}, "transform": [{"filter": "datum.p == 'c'"}], "mark": {"type": "bar", "stroke": "#dcdcdc", "strokeWidth": 0.8},
           "encoding": {
             "x": {"field": "cat", "type": "nominal", "axis": null}, "xOffset": {"field": "vct"},
             "y": {"field": "q1", "type": "quantitative", "axis": null}, "y2": {"field": "q3"},
             "fill": {"condition": {"test": "datum.vct == 'VCT-CA'", "value": "#B97A2C"}, "value": "#233170"}}},
          {"data": {"name": "boxes"}, "transform": [{"filter": "datum.p == 'c'"}], "mark": {"type": "tick", "orient": "horizontal", "size": 19, "thickness": 1.2},
           "encoding": {
             "x": {"field": "cat", "type": "nominal", "axis": {"orient": "bottom", "title": null, "ticks": false, "labelAngle": 0, "labelFontSize": 3.6, "labelPadding": 12, "labelExpr": "datum.value == 'Caudoviricetes' ? '(unclassified)' : ''"}},
             "xOffset": {"field": "vct"},
             "y": {"field": "med", "type": "quantitative", "axis": null},
             "color": {"condition": {"test": "datum.vct == 'VCT-CA'", "value": "#F3CE98"}, "value": "#A3ABD4"}}},
          {"data": {"values": [{"cat": "All phages"}, {"cat": "Caudoviricetes"}]}, "mark": {"type": "tick", "orient": "horizontal", "size": 20, "thickness": 1.3, "color": "#c8c8c8"},
           "encoding": {"x": {"field": "cat", "type": "nominal", "axis": null}, "y": {"datum": 0.97, "type": "quantitative", "axis": null}}},
          {"data": {"values": [{"cat": "All phages"}, {"cat": "Caudoviricetes"}]}, "mark": {"type": "text", "text": "*", "fontSize": 9, "fontWeight": "bold", "baseline": "alphabetic", "color": "#111111"},
           "encoding": {"x": {"field": "cat", "type": "nominal", "axis": null}, "y": {"datum": 0.98, "type": "quantitative", "axis": null}}}
        ]
      }
    ]
  },
  {
    "columns": 1, "align": "none", "spacing": 5,
    "concat": [
      {
        "width": 200, "height": 134,
        "title": {"text": "d", "offset": -22},
        "resolve": {"axis": {"x": "independent", "y": "independent"}},
        "layer": [
          {"data": {"values": [{"label": "Bacterial host"}]}, "mark": {"type": "rect", "fill": "#d6d6d6", "stroke": "#8e8e8e", "strokeWidth": 0.8},
           "encoding": {"y": {"datum": 1.143, "type": "quantitative", "scale": {"domain": [-0.048, 1.229], "nice": false, "zero": false}, "axis": {"orient": "left", "values": [0, 0.25, 0.5, 0.75, 1], "format": ".2f", "title": "Relative abundance", "labelPadding": 2, "titlePadding": 5.5}}, "y2": {"datum": 1.229}}},
          {"data": {"values": [{"label": "Bacterial host"}]}, "mark": {"type": "text", "fontSize": 7.5, "color": "#111111", "baseline": "middle"},
           "encoding": {"y": {"datum": 1.186, "type": "quantitative", "axis": null}, "text": {"field": "label"}}},
          {"data": {"name": "boxes"}, "transform": [{"filter": "datum.p == 'd'"}], "mark": {"type": "rule", "color": "#c8c8c8", "strokeWidth": 1.1},
           "encoding": {
             "x": {"field": "cat", "type": "nominal", "scale": {"domain": ["Actinomycetota", "Bacillota", "Bacteroidota", "Chlamydiota", "Pseudomona.", "Unknown"], "paddingInner": 0.24, "paddingOuter": 0.15}, "axis": {"orient": "bottom", "title": null, "labelAngle": 0, "labelPadding": 2, "labelFontSize": 6.5, "labelOverlap": false}},
             "xOffset": {"field": "vct", "scale": {"domain": ["VCT-CA", "VCT-CrM"], "paddingInner": 0.05}},
             "y": {"field": "lo", "type": "quantitative", "axis": null}, "y2": {"field": "hi"}}},
          {"data": {"name": "boxes"}, "transform": [{"filter": "datum.p == 'd'"}], "mark": {"type": "bar", "stroke": "#dcdcdc", "strokeWidth": 0.8},
           "encoding": {
             "x": {"field": "cat", "type": "nominal", "axis": null}, "xOffset": {"field": "vct"},
             "y": {"field": "q1", "type": "quantitative", "axis": null}, "y2": {"field": "q3"},
             "fill": {"condition": {"test": "datum.vct == 'VCT-CA'", "value": "#B97A2C"}, "value": "#233170"}}},
          {"data": {"name": "boxes"}, "transform": [{"filter": "datum.p == 'd'"}], "mark": {"type": "tick", "orient": "horizontal", "size": 12, "thickness": 1.1},
           "encoding": {
             "x": {"field": "cat", "type": "nominal", "axis": null}, "xOffset": {"field": "vct"},
             "y": {"field": "med", "type": "quantitative", "axis": null},
             "color": {"condition": {"test": "datum.vct == 'VCT-CA'", "value": "#F3CE98"}, "value": "#A3ABD4"}}},
          {"data": {"name": "outliers"}, "transform": [{"filter": "datum.p == 'd'"}], "mark": {"type": "circle", "size": 3.5, "color": "#222222", "opacity": 1},
           "encoding": {
             "x": {"field": "cat", "type": "nominal", "axis": {"orient": "bottom", "title": null, "ticks": false, "labelAngle": 0, "labelFontSize": 3.6, "labelPadding": 12, "labelOverlap": false, "labelExpr": "datum.value == 'Actinomycetota' ? \"('Actinobacteria')\" : datum.value == 'Bacillota' ? \"('Firmicutes')\" : datum.value == 'Bacteroidota' ? \"('Bacteroidetes')\" : datum.value == 'Chlamydiota' ? \"('Chlamydiae')\" : datum.value == 'Pseudomona.' ? \"('Proteobacteria')\" : ''"}},
             "xOffset": {"field": "vct"},
             "y": {"field": "v", "type": "quantitative", "axis": null}}},
          {"data": {"values": [{"cat": "Bacillota"}, {"cat": "Pseudomona."}]}, "mark": {"type": "tick", "orient": "horizontal", "size": 13, "thickness": 1.3, "color": "#c8c8c8"},
           "encoding": {"x": {"field": "cat", "type": "nominal", "axis": null}, "y": {"datum": 1.03, "type": "quantitative", "axis": null}}},
          {"data": {"values": [{"cat": "Bacillota"}, {"cat": "Pseudomona."}]}, "mark": {"type": "text", "text": "*", "fontSize": 9, "fontWeight": "bold", "baseline": "alphabetic", "color": "#111111"},
           "encoding": {"x": {"field": "cat", "type": "nominal", "axis": null}, "y": {"datum": 1.04, "type": "quantitative", "axis": null}}}
        ]
      },
      {
        "hconcat": [
          {
            "width": 95, "height": 121,
            "title": {"text": "e", "offset": -14},
            "resolve": {"axis": {"x": "independent", "y": "independent"}},
            "layer": [
              {"data": {"values": [{"label": "FMT treatment profile"}]}, "mark": {"type": "rect", "fill": "#d6d6d6", "stroke": "#8e8e8e", "strokeWidth": 0.8},
               "encoding": {"y": {"datum": 117.8, "type": "quantitative", "scale": {"domain": [-4.4, 130], "nice": false, "zero": false}, "axis": {"orient": "left", "values": [0, 25, 50, 75, 100], "title": "VCT prevalence (%)", "labelPadding": 2, "titlePadding": 7.5}}, "y2": {"datum": 130}}},
              {"data": {"values": [{"label": "FMT treatment profile"}]}, "mark": {"type": "text", "fontSize": 7.5, "color": "#111111", "baseline": "middle"},
               "encoding": {"y": {"datum": 123.9, "type": "quantitative", "axis": null}, "text": {"field": "label"}}},
              {"data": {"name": "bars"}, "transform": [{"filter": "datum.grp == 'FMT'"}], "mark": {"type": "bar", "fill": "#B97A2C", "stroke": "#e4e4e4", "strokeWidth": 1},
               "encoding": {
                 "x": {"field": "cat", "type": "nominal", "scale": {"domain": ["Donor (-allogenic)", "Patient (-allogenic)", "Donor (-autologous)", "Patient (-autologous)", "Patient (-baseline)"], "paddingInner": 0.145, "paddingOuter": 0.16}, "axis": {"orient": "bottom", "title": null, "labelAngle": -45, "labelPadding": 2, "labelExpr": "split(datum.value, ' ')[0]"}},
                 "y": {"field": "crm", "type": "quantitative", "axis": null}, "y2": {"datum": 100}}},
              {"data": {"name": "bars"}, "transform": [{"filter": "datum.grp == 'FMT'"}], "mark": {"type": "bar", "fill": "#233170", "stroke": "#e4e4e4", "strokeWidth": 1},
               "encoding": {
                 "x": {"field": "cat", "type": "nominal", "axis": {"orient": "bottom", "title": null, "ticks": false, "labelAngle": -45, "labelFontSize": 3.6, "labelPadding": 10, "labelOffset": 3, "labelExpr": "split(datum.value, ' ')[1]"}},
                 "y": {"field": "crm", "type": "quantitative", "axis": null}, "y2": {"datum": 0}}},
              {"data": {"values": [{"label": "*"}]}, "mark": {"type": "tick", "orient": "horizontal", "size": 74, "thickness": 1.3, "color": "#c8c8c8"},
               "encoding": {"y": {"datum": 103.5, "type": "quantitative", "axis": null}}},
              {"data": {"values": [{"label": "*"}]}, "mark": {"type": "text", "fontSize": 9, "fontWeight": "bold", "baseline": "alphabetic", "color": "#111111"},
               "encoding": {"y": {"datum": 104.5, "type": "quantitative", "axis": null}, "text": {"field": "label"}}}
            ]
          },
          {
            "width": 89, "height": 121,
            "resolve": {"axis": {"x": "independent", "y": "independent"}},
            "layer": [
              {"data": {"values": [{"label": "Patient (-allogenic)"}]}, "mark": {"type": "rect", "fill": "#d6d6d6", "stroke": "#8e8e8e", "strokeWidth": 0.8},
               "encoding": {"y": {"datum": 117.8, "type": "quantitative", "scale": {"domain": [-4.4, 130], "nice": false, "zero": false}, "axis": {"orient": "left", "values": [0, 25, 50, 75, 100], "title": null, "labelPadding": 1, "tickSize": 2}}, "y2": {"datum": 130}}},
              {"data": {"values": [{"label": "Patient (-allogenic)"}]}, "mark": {"type": "text", "fontSize": 7.5, "color": "#111111", "baseline": "middle"},
               "encoding": {"y": {"datum": 123.9, "type": "quantitative", "axis": null}, "text": {"field": "label"}}},
              {"data": {"name": "bars"}, "transform": [{"filter": "datum.grp == 'PAT'"}], "mark": {"type": "bar", "fill": "#B97A2C", "stroke": "#e4e4e4", "strokeWidth": 1},
               "encoding": {
                 "x": {"field": "cat", "type": "nominal", "scale": {"domain": ["Baseline", "Week 4", "Week 8", "Week 12", "Month 6", "Month 12"], "paddingInner": 0.13, "paddingOuter": 0.03}, "axis": {"orient": "bottom", "title": null, "labelAngle": -45, "labelPadding": 2}},
                 "y": {"field": "crm", "type": "quantitative", "axis": null}, "y2": {"datum": 100}}},
              {"data": {"name": "bars"}, "transform": [{"filter": "datum.grp == 'PAT'"}], "mark": {"type": "bar", "fill": "#233170", "stroke": "#e4e4e4", "strokeWidth": 1},
               "encoding": {
                 "x": {"field": "cat", "type": "nominal", "axis": null},
                 "y": {"field": "crm", "type": "quantitative", "axis": null}, "y2": {"datum": 0}}},
              {"data": {"values": [{"label": "ns"}]}, "mark": {"type": "tick", "orient": "horizontal", "size": 74, "thickness": 1.3, "color": "#c8c8c8"},
               "encoding": {"y": {"datum": 103.5, "type": "quantitative", "axis": null}}},
              {"data": {"values": [{"label": "ns"}]}, "mark": {"type": "text", "fontSize": 7, "baseline": "alphabetic", "color": "#111111"},
               "encoding": {"y": {"datum": 106.5, "type": "quantitative", "axis": null}, "text": {"field": "label"}}}
            ]
          }
        ],
        "spacing": 2
      }
    ]
  }
]
}
